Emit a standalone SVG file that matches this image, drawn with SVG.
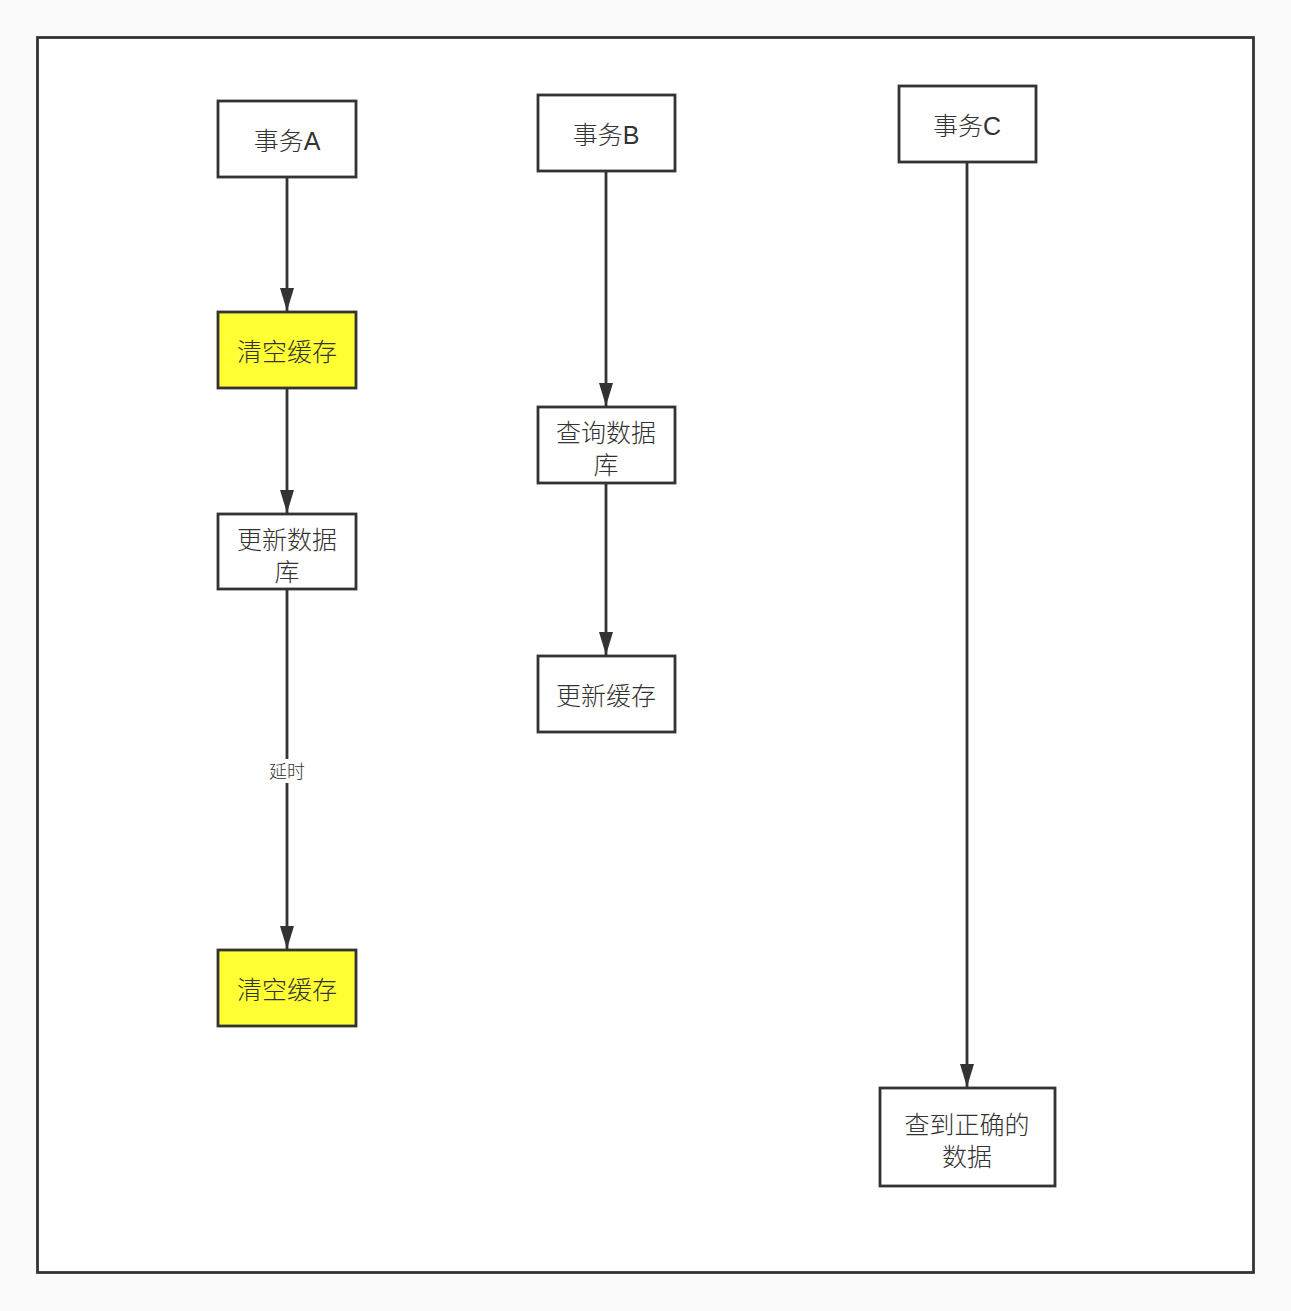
<svg xmlns="http://www.w3.org/2000/svg" width="1291" height="1311" viewBox="0 0 1291 1311">
<defs>
<style>
.box{fill:#ffffff;stroke:#333333;stroke-width:2.8}
.hl{fill:#ffff33}
.t{font-family:"Liberation Sans","Noto Sans CJK SC",sans-serif;font-size:25px;font-weight:300;fill:#333333;text-anchor:middle}
.edge{stroke:#333333;stroke-width:2.8;fill:none}
.lbl{font-family:"Liberation Sans","Noto Sans CJK SC",sans-serif;font-size:18px;font-weight:300;fill:#333333;text-anchor:middle}
</style>
<marker id="arr" markerWidth="24" markerHeight="16" refX="23" refY="8" orient="auto" markerUnits="userSpaceOnUse" viewBox="0 0 24 16">
<path d="M0,1 L23,8 L0,15 Z" fill="#333333"/>
</marker>
</defs>
<rect x="0" y="0" width="1291" height="1311" fill="#fafafa"/>
<rect x="37.5" y="37.5" width="1216" height="1235" fill="#ffffff" stroke="#333333" stroke-width="2.8"/>
<g id="connectors">
<line class="edge" x1="287" y1="178" x2="287" y2="311" marker-end="url(#arr)"/>
<line class="edge" x1="287" y1="389" x2="287" y2="513" marker-end="url(#arr)"/>
<line class="edge" x1="287" y1="590" x2="287" y2="949" marker-end="url(#arr)"/>
<line class="edge" x1="606" y1="172" x2="606" y2="406" marker-end="url(#arr)"/>
<line class="edge" x1="606" y1="484" x2="606" y2="655" marker-end="url(#arr)"/>
<line class="edge" x1="967" y1="163" x2="967" y2="1087" marker-end="url(#arr)"/>
<g id="label-delay">
<rect x="264" y="759" width="46" height="24" fill="#ffffff"/>
<text class="lbl" x="287" y="778">延时</text>
</g>
</g>
<g id="nodeA">
<rect class="box" x="218" y="101" width="138" height="76"/>
<text class="t" x="287" y="150">事务A</text>
</g>
<g id="nodeA1">
<rect class="box hl" x="218" y="312" width="138" height="76"/>
<text class="t" x="287" y="361">清空缓存</text>
</g>
<g id="nodeA2">
<rect class="box" x="218" y="514" width="138" height="75"/>
<text class="t" x="287" y="549">更新数据</text>
<text class="t" x="287" y="581">库</text>
</g>
<g id="nodeA3">
<rect class="box hl" x="218" y="950" width="138" height="76"/>
<text class="t" x="287" y="999">清空缓存</text>
</g>
<g id="nodeB">
<rect class="box" x="538" y="95" width="137" height="76"/>
<text class="t" x="606" y="144">事务B</text>
</g>
<g id="nodeB1">
<rect class="box" x="538" y="407" width="137" height="76"/>
<text class="t" x="606" y="442">查询数据</text>
<text class="t" x="606" y="474">库</text>
</g>
<g id="nodeB2">
<rect class="box" x="538" y="656" width="137" height="76"/>
<text class="t" x="606" y="705">更新缓存</text>
</g>
<g id="nodeC">
<rect class="box" x="899" y="86" width="137" height="76"/>
<text class="t" x="967" y="135">事务C</text>
</g>
<g id="nodeC1">
<rect class="box" x="880" y="1088" width="175" height="98"/>
<text class="t" x="967" y="1134">查到正确的</text>
<text class="t" x="967" y="1166">数据</text>
</g>
</svg>
